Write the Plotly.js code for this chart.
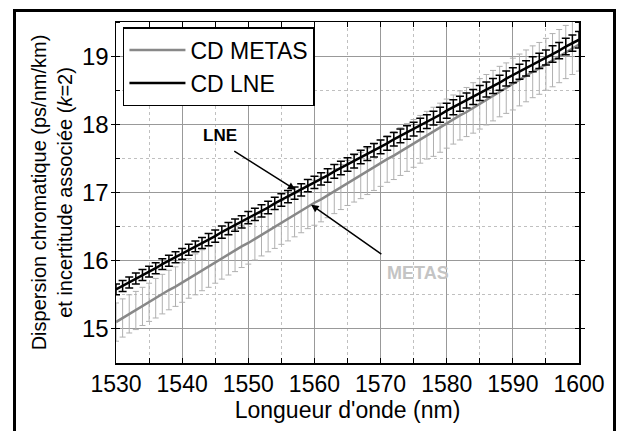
<!DOCTYPE html>
<html>
<head>
<meta charset="utf-8">
<script src="https://cdn.plot.ly/plotly-3.0.1.min.js"></script>
<style>
  html, body { margin: 0; padding: 0; background: #fff; }
  #wrap { position: relative; width: 625px; height: 431px; overflow: hidden; }
  #chart { position: absolute; left: 0; top: 0; width: 625px; height: 431px; }
  #frame { position: absolute; left: 13px; top: 9px; width: 597px; height: 440px;
           border: 3.5px solid #000; pointer-events: none; }
</style>
</head>
<body>
<div id="wrap">
  <div id="chart"></div>
  <div id="frame"></div>
</div>
<script>
// Wavelength (nm)
const wavelength = [1530,1531,1532,1533,1534,1535,1536,1537,1538,1539,
  1540,1541,1542,1543,1544,1545,1546,1547,1548,1549,
  1550,1551,1552,1553,1554,1555,1556,1557,1558,1559,
  1560,1561,1562,1563,1564,1565,1566,1567,1568,1569,
  1570,1571,1572,1573,1574,1575,1576,1577,1578,1579,
  1580,1581,1582,1583,1584,1585,1586,1587,1588,1589,
  1590,1591,1592,1593,1594,1595,1596,1597,1598,1599,1600];

// CD METAS (ps/nm/km)
const cdMetas = [15.10,15.16,15.22,15.27,15.33,15.39,15.45,15.51,15.57,15.62,
  15.68,15.74,15.80,15.86,15.91,15.97,16.03,16.09,16.15,16.21,
  16.26,16.32,16.38,16.44,16.50,16.56,16.61,16.67,16.73,16.79,
  16.85,16.90,16.96,17.02,17.08,17.14,17.20,17.25,17.31,17.37,
  17.43,17.49,17.54,17.60,17.66,17.72,17.78,17.84,17.89,17.95,
  18.01,18.07,18.13,18.18,18.24,18.30,18.36,18.42,18.48,18.53,
  18.59,18.65,18.71,18.77,18.82,18.88,18.94,19.00,19.06,19.12,19.17];

// METAS uncertainty (k=2)
const uMetas = [0.28,0.28,0.28,0.28,0.28,0.28,0.29,0.29,0.29,0.29,
  0.29,0.29,0.30,0.30,0.30,0.30,0.30,0.30,0.31,0.31,
  0.31,0.31,0.31,0.31,0.32,0.32,0.32,0.32,0.32,0.32,
  0.33,0.33,0.33,0.33,0.33,0.33,0.34,0.34,0.34,0.34,
  0.34,0.34,0.35,0.35,0.35,0.35,0.35,0.35,0.36,0.36,
  0.36,0.36,0.36,0.36,0.37,0.37,0.37,0.37,0.37,0.37,
  0.38,0.38,0.38,0.38,0.38,0.38,0.39,0.39,0.39,0.39,0.39];

// CD LNE (ps/nm/km)
const cdLne = [15.58,15.63,15.68,15.74,15.79,15.84,15.89,15.95,16.00,16.05,
  16.10,16.16,16.21,16.26,16.31,16.36,16.42,16.47,16.52,16.57,
  16.63,16.68,16.73,16.78,16.84,16.89,16.94,16.99,17.04,17.10,
  17.15,17.20,17.25,17.31,17.36,17.41,17.46,17.52,17.57,17.62,
  17.67,17.72,17.78,17.83,17.88,17.93,17.99,18.04,18.09,18.14,
  18.20,18.25,18.30,18.35,18.40,18.46,18.51,18.56,18.61,18.67,
  18.72,18.77,18.82,18.88,18.93,18.98,19.03,19.08,19.14,19.19,19.24];

// LNE uncertainty (k=2)
const uLne = [0.08,0.08,0.08,0.08,0.08,0.08,0.08,0.08,0.08,0.08,
  0.08,0.08,0.08,0.08,0.09,0.09,0.09,0.09,0.09,0.09,
  0.09,0.09,0.09,0.09,0.09,0.09,0.09,0.09,0.09,0.09,
  0.09,0.09,0.10,0.10,0.10,0.10,0.10,0.10,0.10,0.10,
  0.10,0.10,0.10,0.10,0.10,0.10,0.10,0.10,0.10,0.11,
  0.11,0.11,0.11,0.11,0.11,0.11,0.11,0.11,0.11,0.11,
  0.11,0.11,0.11,0.11,0.11,0.11,0.12,0.12,0.12,0.12,0.12];

const seriesNames = ['CD METAS', 'CD LNE'];
const xTicks = [1530,1540,1550,1560,1570,1580,1590,1600];
const yTicks = [15,16,17,18,19];

const FONT = 'Liberation Sans, Arial, Helvetica, sans-serif';

const traces = [
  {
    x: wavelength, y: cdMetas, name: seriesNames[0], type: 'scatter', mode: 'lines',
    line: {color: '#888888', width: 2.5},
    error_y: {type: 'data', array: uMetas, visible: true, color: '#b0b0b0', thickness: 1, width: 3}
  },
  {
    x: wavelength, y: cdLne, name: seriesNames[1], type: 'scatter', mode: 'lines',
    line: {color: '#000000', width: 2.5},
    error_y: {type: 'data', array: uLne, visible: true, color: '#000000', thickness: 1.5, width: 4}
  }
];

const layout = {
  width: 625, height: 431,
  margin: {l: 116, r: 46, t: 22, b: 68},
  paper_bgcolor: '#ffffff', plot_bgcolor: '#ffffff',
  font: {family: FONT, color: '#000', size: 22},
  showlegend: true,
  legend: {
    x: 0.015, y: 0.985, xanchor: 'left', yanchor: 'top',
    bgcolor: '#ffffff', bordercolor: '#000', borderwidth: 1.5,
    font: {family: FONT, size: 23, color: '#000'},
    itemwidth: 56, tracegroupgap: 0
  },
  xaxis: {
    range: [1530, 1600], tickvals: xTicks, ticktext: xTicks.map(String),
    showline: true, linecolor: '#000', linewidth: 1.5, mirror: 'allticks',
    ticks: 'inside', ticklen: 5, tickcolor: '#000', tickwidth: 1,
    showgrid: true, gridcolor: '#999999', gridwidth: 1,
    zeroline: false,
    tickfont: {family: FONT, size: 23},
    minor: {dtick: 5, ticks: 'inside', ticklen: 5, tickcolor: '#000', showgrid: true,
            gridcolor: '#c0c0c0', griddash: 'dot', gridwidth: 1},
    title: {text: "Longueur d'onde (nm)", font: {family: FONT, size: 23}, standoff: 4}
  },
  yaxis: {
    range: [14.5, 19.5], tickvals: yTicks, ticktext: yTicks.map(String),
    showline: true, linecolor: '#000', linewidth: 1.5, mirror: 'allticks',
    ticks: 'outside', ticklen: 4, tickcolor: '#000', tickwidth: 1,
    ticklabelstandoff: -3,
    showgrid: true, gridcolor: '#999999', gridwidth: 1,
    zeroline: false,
    tickfont: {family: FONT, size: 24},
    minor: {dtick: 0.5, ticks: 'inside', ticklen: 4, tickcolor: '#000', showgrid: true,
            gridcolor: '#c0c0c0', griddash: 'dot', gridwidth: 1},
    title: {text: 'Dispersion chromatique (ps/nm/km)<br>et incertitude associée (<i>k</i>=2)',
            font: {family: FONT, size: 20}, standoff: 4}
  },
  annotations: [
    {x: 1557.1, y: 17.04, ax: 1547.2, ay: 17.65, xref: 'x', yref: 'y', axref: 'x', ayref: 'y',
     text: ' ', showarrow: true, arrowhead: 2, arrowsize: 1, arrowwidth: 1.5, arrowcolor: '#000', standoff: 0},
    {x: 1545.7, y: 17.83, xref: 'x', yref: 'y', text: '<b>LNE</b>', showarrow: false,
     font: {family: FONT, size: 17, color: '#000'}},
    {x: 1559.5, y: 16.82, ax: 1570.8, ay: 16.05, xref: 'x', yref: 'y', axref: 'x', ayref: 'y',
     text: ' ', showarrow: true, arrowhead: 2, arrowsize: 1, arrowwidth: 1.5, arrowcolor: '#000', standoff: 0},
    {x: 1575.7, y: 15.82, xref: 'x', yref: 'y', text: '<b>METAS</b>', showarrow: false,
     font: {family: FONT, size: 18, color: '#c4c4c4'}}
  ]
};

Plotly.newPlot('chart', traces, layout, {displayModeBar: false, staticPlot: true});
</script>
</body>
</html>
